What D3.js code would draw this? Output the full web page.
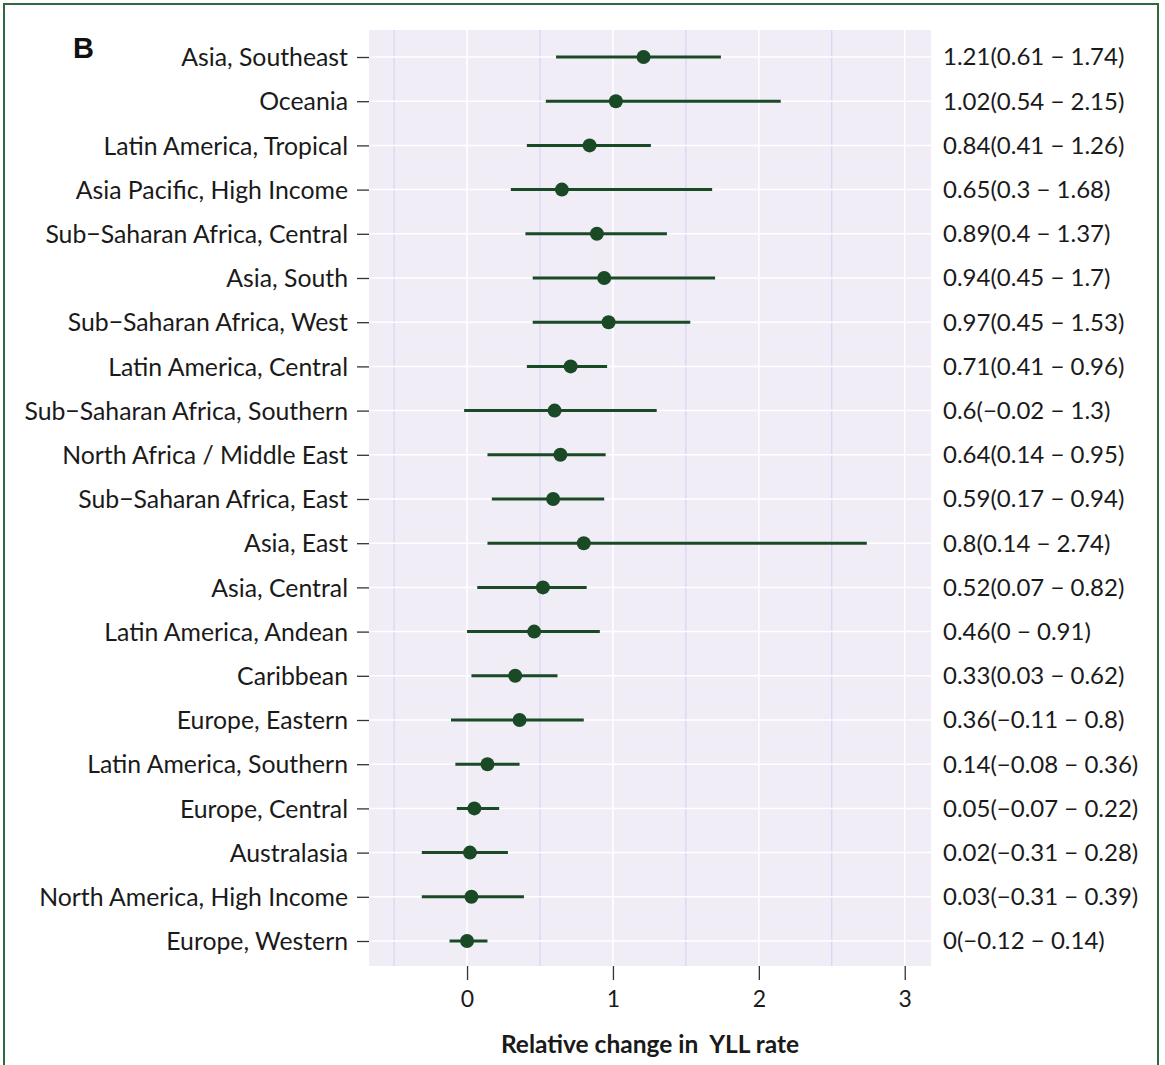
<!DOCTYPE html>
<html><head><meta charset="utf-8">
<script src="https://cdn.jsdelivr.net/npm/d3@7"></script>
<style>body{margin:0;background:#fff;} text{font-family:Lato,"Open Sans",sans-serif;}</style>
</head><body>
<svg id="c" width="1165" height="1065"></svg>
<script>
const regions = ["Asia, Southeast","Oceania","Latin America, Tropical","Asia Pacific, High Income","Sub\u2212Saharan Africa, Central","Asia, South","Sub\u2212Saharan Africa, West","Latin America, Central","Sub\u2212Saharan Africa, Southern","North Africa / Middle East","Sub\u2212Saharan Africa, East","Asia, East","Asia, Central","Latin America, Andean","Caribbean","Europe, Eastern","Latin America, Southern","Europe, Central","Australasia","North America, High Income","Europe, Western"];
const estimate = [1.21,1.02,0.84,0.65,0.89,0.94,0.97,0.71,0.6,0.64,0.59,0.8,0.52,0.46,0.33,0.36,0.14,0.05,0.02,0.03,0];
const lower = [0.61,0.54,0.41,0.3,0.4,0.45,0.45,0.41,-0.02,0.14,0.17,0.14,0.07,0,0.03,-0.11,-0.08,-0.07,-0.31,-0.31,-0.12];
const upper = [1.74,2.15,1.26,1.68,1.37,1.7,1.53,0.96,1.3,0.95,0.94,2.74,0.82,0.91,0.62,0.8,0.36,0.22,0.28,0.39,0.14];
const xTicks = [0,1,2,3];
const xMinor = [-0.5,0.5,1.5,2.5];

const svg = d3.select("#c");
const L=369,R=931,T=30,B=966;
const x = d3.scaleLinear().domain([-0.672,3.18]).range([L,R]);
const y = d3.scalePoint().domain(regions).range([57,941]);
const fmt = v => String(v).replace("-","\u2212");

// border
svg.append("rect").attr("x",4).attr("y",4).attr("width",1154).attr("height",1080)
  .attr("fill","none").attr("stroke","#2d6b3c").attr("stroke-width",2);

// panel
svg.append("rect").attr("x",L).attr("y",T).attr("width",R-L).attr("height",B-T).attr("fill","#f0edf6");
svg.selectAll(".minor").data(xMinor).join("line").attr("x1",d=>x(d)).attr("x2",d=>x(d))
  .attr("y1",T).attr("y2",B).attr("stroke","#d6cdf0").attr("stroke-width",1);
svg.selectAll(".major").data(xTicks).join("line").attr("x1",d=>x(d)).attr("x2",d=>x(d))
  .attr("y1",T).attr("y2",B).attr("stroke","#ffffff").attr("stroke-width",1.5);
svg.selectAll(".hg").data(regions).join("line").attr("x1",L).attr("x2",R)
  .attr("y1",d=>y(d)).attr("y2",d=>y(d)).attr("stroke","#ffffff").attr("stroke-width",1.5);

// axes
const xa = svg.append("g").attr("transform",`translate(0,${B})`)
  .call(d3.axisBottom(x).tickValues(xTicks).tickSize(14).tickPadding(11).tickFormat(d3.format("d")));
xa.select(".domain").remove();
xa.selectAll("line").attr("stroke","#333").attr("stroke-width",1.3);
xa.selectAll("text").attr("font-size",23).attr("fill","#1a1a1a").style("font-family","Lato,'Open Sans',sans-serif");

const ya = svg.append("g").attr("transform",`translate(${L},0)`)
  .call(d3.axisLeft(y).tickSize(12).tickPadding(9));
ya.select(".domain").remove();
ya.selectAll("line").attr("stroke","#333").attr("stroke-width",1.3);
ya.selectAll("text").attr("font-size",24.8).attr("fill","#1a1a1a").attr("dy","0.35em").style("font-family","Lato,'Open Sans',sans-serif");

// marks
const rows = regions.map((r,i)=>({r,e:estimate[i],lo:lower[i],hi:upper[i]}));
svg.selectAll(".ci").data(rows).join("line").attr("x1",d=>x(d.lo)).attr("x2",d=>x(d.hi))
  .attr("y1",d=>y(d.r)).attr("y2",d=>y(d.r)).attr("stroke","#1a4a25").attr("stroke-width",3);
svg.selectAll(".pt").data(rows).join("circle").attr("cx",d=>x(d.e)).attr("cy",d=>y(d.r))
  .attr("r",7).attr("fill","#1a4a25");

// right labels
svg.selectAll(".rl").data(rows).join("text").attr("x",943).attr("y",d=>y(d.r)).attr("dy","0.35em")
  .attr("font-size",24).attr("fill","#1a1a1a")
  .text(d=>`${fmt(d.e)}(${fmt(d.lo)} \u2212 ${fmt(d.hi)})`);

// titles
svg.append("text").attr("x",(L+R)/2).attr("y",1053).attr("text-anchor","middle")
  .attr("font-size",24.5).attr("font-weight","bold").attr("fill","#1a1a1a").style("white-space","pre")
  .text("Relative change in  YLL rate");
svg.append("text").attr("x",73).attr("y",58).attr("font-size",29).attr("font-weight","bold")
  .style("font-family","'Liberation Sans',Arial,sans-serif").attr("fill","#111").text("B");
</script>
</body></html>
